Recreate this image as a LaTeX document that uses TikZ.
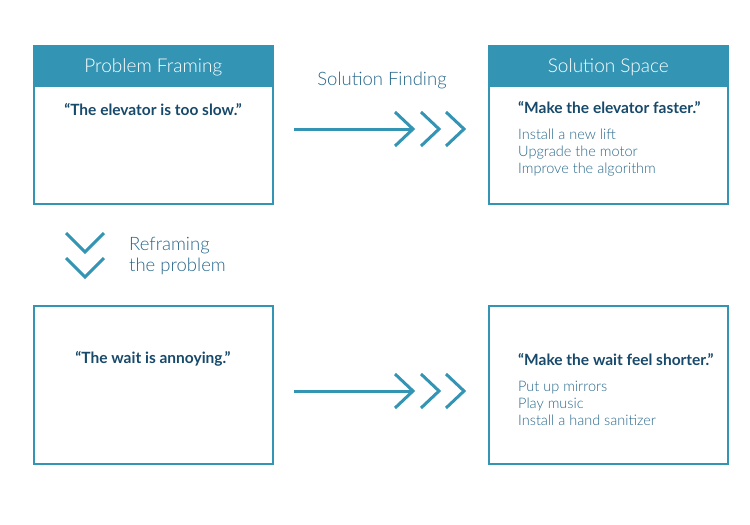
\documentclass[tikz,border=0pt]{standalone}
\usepackage{fontspec}
\setmainfont{Lato}
\newfontfamily\lightfont{Lato Light}
\usetikzlibrary{positioning}

\definecolor{framecol}{HTML}{3394B4}
\definecolor{quotecol}{HTML}{17496A}
\definecolor{itemcol}{HTML}{25668A}

\begin{document}
\begin{tikzpicture}[x=1pt, y=-1pt]
  \def\boxw{239pt}
  \def\boxh{158pt}
  \tikzstyle{frame} = [draw=framecol, line width=1.6pt, minimum width=\boxw, minimum height=\boxh, inner sep=0pt, anchor=north west]
  \tikzstyle{header} = [fill=framecol, draw=framecol, line width=1.6pt, minimum width=\boxw, minimum height=40pt, inner sep=0pt, anchor=north west, text=white, text depth=1pt, font=\lightfont\fontsize{19}{22}\selectfont]
  \tikzstyle{quote} = [text=quotecol, inner sep=0pt, font=\bfseries\fontsize{15.5}{18}\selectfont]
  \tikzstyle{items} = [text=itemcol, inner sep=0pt, align=left, anchor=north west, font=\lightfont\fontsize{14.5}{17}\selectfont]
  \tikzstyle{caption} = [text=itemcol, inner sep=0pt, font=\lightfont\fontsize{18.5}{21}\selectfont]
  \tikzstyle{flow} = [draw=framecol, line width=3pt, line join=miter]

  \useasboundingbox (0,0) rectangle (750,525);

  % problem side
  \node[frame] (problem) at (33,45) {};
  \node[header] (problemhead) at (33,45) {Problem Framing};
  \node[quote] (problemquote) at (153,110) {“The elevator is too slow.”};

  \node[frame] (reframed) at (33,305) {};
  \node[quote] (reframedquote) at (153,359) {“The wait is annoying.”};

  % solution side
  \node[frame] (solution) at (488,45) {};
  \node[header] (solutionhead) at (488,45) {Solution Space};
  \node[quote, anchor=west] (solutionquote) at (518,108) {“Make the elevator faster.”};
  \node[items] (solutionitems) at (518,129) {Install a new lift\\Upgrade the motor\\Improve the algorithm};

  \node[frame] (resolved) at (488,305) {};
  \node[quote, anchor=west] (resolvedquote) at (518,360) {“Make the wait feel shorter.”};
  \node[items] (resolveditems) at (518,381) {Put up mirrors\\Play music\\Install a hand sanitizer};

  % arrows
  \node[caption] (finding) at (382,80) {Solution Finding};

  \begin{scope}[shift={(294,129)}]
    \coordinate (topstart) at (0,0);
    \coordinate (toptip) at (119,0);
    \draw[flow] (topstart) -- (toptip);
    \foreach \dx in {0,26,51}
      \draw[flow] (101+\dx,-17) -- (119+\dx,0) -- (101+\dx,17);
  \end{scope}

  \begin{scope}[shift={(294,391)}]
    \coordinate (botstart) at (0,0);
    \coordinate (bottip) at (119,0);
    \draw[flow] (botstart) -- (bottip);
    \foreach \dx in {0,26,51}
      \draw[flow] (101+\dx,-17) -- (119+\dx,0) -- (101+\dx,17);
  \end{scope}

  % reframing
  \begin{scope}[shift={(85,233)}]
    \foreach \dy in {0,25}
      \draw[flow] (-19,\dy) -- (0,19+\dy) -- (19,\dy);
  \end{scope}
  \node[caption, align=left, anchor=west] (reframing) at (129,256) {Reframing\\the problem};

\end{tikzpicture}
\end{document}
